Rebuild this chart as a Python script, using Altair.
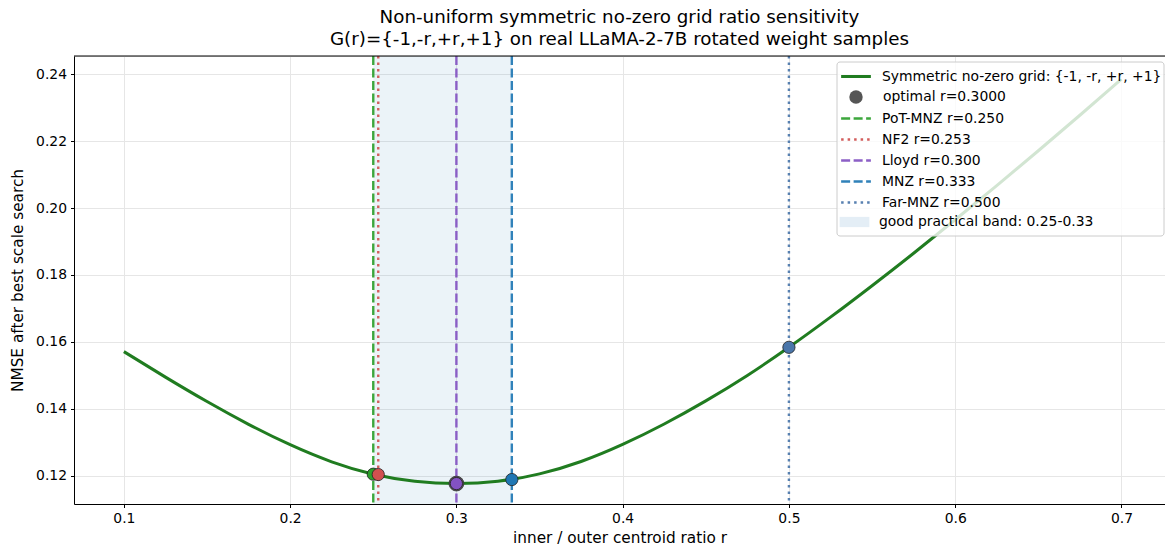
import altair as alt
import pandas as pd

# ---- data ----
r_vals = [0.100, 0.125, 0.150, 0.175, 0.200, 0.225, 0.250, 0.275, 0.300,
          0.325, 0.350, 0.375, 0.400, 0.425, 0.450, 0.475, 0.500, 0.525,
          0.550, 0.575, 0.600, 0.625, 0.650, 0.675, 0.700]
nmse_vals = [0.1571, 0.1495, 0.1422, 0.1354, 0.1293, 0.1242, 0.1205, 0.1184, 0.1177,
             0.1184, 0.1206, 0.1243, 0.1294, 0.1355, 0.1424, 0.1500, 0.1584, 0.1674,
             0.1768, 0.1865, 0.1965, 0.2067, 0.2171, 0.2277, 0.2385]

curve_label = "Symmetric no-zero grid: {-1, -r, +r, +1}"
curve_color = "#207c20"

opt_label = "optimal r=0.3000"
opt_r = [0.300]
opt_nmse = [0.1177]
opt_color = "#555555"

method_labels = ["PoT-MNZ r=0.250", "NF2 r=0.253", "Lloyd r=0.300", "MNZ r=0.333", "Far-MNZ r=0.500"]
method_r = [0.250, 0.253, 0.300, 1 / 3, 0.500]
method_nmse = [0.1205, 0.1204, 0.1177, 0.1189, 0.1584]
method_colors = ["#2ca02c", "#d0504f", "#8352c2", "#1f77b4", "#4a76aa"]
method_dash = [[9, 3.5], [2.5, 4], [9, 3.5], [9, 3.5], [2.5, 4]]

band_label = "good practical band: 0.25-0.33"
band_lo = [0.25]
band_hi = [1 / 3]
band_color = "#1f77b4"

x_ticks = [0.1, 0.2, 0.3, 0.4, 0.5, 0.6, 0.7]
y_ticks = [0.12, 0.14, 0.16, 0.18, 0.20, 0.22, 0.24]

# ---- tables ----
curve_df = pd.DataFrame({"r": r_vals, "nmse": nmse_vals, "label": curve_label})
opt_df = pd.DataFrame({"r": opt_r, "nmse": opt_nmse, "label": opt_label})
meth_df = pd.DataFrame({"r": method_r, "nmse": method_nmse, "label": method_labels})
band_df = pd.DataFrame({"lo": band_lo, "hi": band_hi, "label": band_label})

W, H = 1091, 448
FONT = "DejaVu Sans"
LEG_X = 767
STROKE_PATH = "M-1.75,0H1.75"
PATCH_PATH = "M-1.75,-0.6H1.75V0.6H-1.75Z"

xscale = alt.Scale(domain=[0.07, 0.7262], nice=False, zero=False)
yscale = alt.Scale(domain=[0.1116, 0.2454], nice=False, zero=False)


def leg(y, **kw):
    base = dict(title=None, orient="none", legendX=LEG_X, legendY=y, padding=0,
                labelFont=FONT, labelFontSize=13.9, labelColor="#000000", labelLimit=400)
    base.update(kw)
    return alt.Legend(**base)


axis_common = dict(grid=True, gridColor="#e6e6e6", domainColor="#000000", tickColor="#000000",
                   tickSize=3.5, labelFont=FONT, labelFontSize=13.9, labelColor="#000000",
                   titleFont=FONT, titleFontSize=15.3, titleFontWeight="normal",
                   titleColor="#000000", labelFlush=False)
x_axis = alt.Axis(values=x_ticks, format=".1f", title="inner / outer centroid ratio r",
                  labelPadding=4, titlePadding=5, **axis_common)
y_axis = alt.Axis(values=y_ticks, format=".2f", title="NMSE after best scale search",
                  labelPadding=4, titlePadding=10, **axis_common)

band = alt.Chart(band_df).mark_rect(opacity=0.09).encode(
    x=alt.X("lo:Q", scale=xscale, axis=x_axis),
    x2="hi:Q",
    color=alt.Color("label:N", scale=alt.Scale(domain=[band_label], range=[band_color]),
                    legend=leg(157.5, symbolType=PATCH_PATH, symbolSize=289, symbolOffset=5,
                               labelOffset=16, symbolOpacity=0.12, symbolStrokeWidth=0)),
)

curve = alt.Chart(curve_df).mark_line(strokeWidth=3, interpolate="natural").encode(
    x=alt.X("r:Q", scale=xscale, axis=x_axis),
    y=alt.Y("nmse:Q", scale=yscale, axis=y_axis),
    color=alt.Color("label:N", scale=alt.Scale(domain=[curve_label], range=[curve_color]),
                    legend=leg(10.5, symbolType=STROKE_PATH, symbolSize=289, symbolOffset=5,
                               labelOffset=16, symbolStrokeWidth=3)),
)

legend_box = alt.Chart(pd.DataFrame({"k": [0]})).mark_rect(
    fill="white", fillOpacity=0.8, stroke="#cccccc", strokeWidth=1, cornerRadius=3
).encode(x=alt.value(763), x2=alt.value(1090), y=alt.value(6), y2=alt.value(180))

meth_legend = leg(52.5, symbolType=STROKE_PATH, symbolSize=289, symbolOffset=5,
                  labelOffset=16, symbolStrokeWidth=2.4, rowPadding=4)
rules = alt.Chart(meth_df).mark_rule(strokeWidth=2.4, opacity=0.92).encode(
    x=alt.X("r:Q", scale=xscale),
    color=alt.Color("label:N", scale=alt.Scale(domain=method_labels, range=method_colors),
                    legend=meth_legend),
    strokeDash=alt.StrokeDash("label:N", scale=alt.Scale(domain=method_labels, range=method_dash),
                              legend=meth_legend),
)

opt_pt = alt.Chart(opt_df).mark_circle(size=220, opacity=1, stroke="#333333", strokeWidth=0.8).encode(
    x=alt.X("r:Q", scale=xscale),
    y=alt.Y("nmse:Q", scale=yscale),
    color=alt.Color("label:N", scale=alt.Scale(domain=[opt_label], range=[opt_color]),
                    legend=leg(34, symbolType="circle", symbolSize=180, symbolOffset=8,
                               labelOffset=20, symbolStrokeWidth=0)),
)

meth_pts = alt.Chart(meth_df).mark_circle(size=150, opacity=1, stroke="#222222", strokeWidth=0.8).encode(
    x=alt.X("r:Q", scale=xscale),
    y=alt.Y("nmse:Q", scale=yscale),
    color=alt.Color("label:N", scale=alt.Scale(domain=method_labels, range=method_colors), legend=None),
)

top_spine = alt.Chart(pd.DataFrame({"k": [0]})).mark_rule(color="#000000", strokeWidth=1).encode(
    x=alt.value(0), x2=alt.value(W), y=alt.value(0)
)

chart = alt.layer(band, curve, rules, opt_pt, meth_pts, legend_box, top_spine).resolve_scale(
    color="independent", strokeDash="independent"
).properties(
    width=W,
    height=H,
    padding={"left": 74, "top": 56, "right": 0, "bottom": 46},
    autosize=alt.AutoSizeParams(type="none"),
    title=alt.TitleParams(
        text=["Non-uniform symmetric no-zero grid ratio sensitivity",
              "G(r)={-1,-r,+r,+1} on real LLaMA-2-7B rotated weight samples"],
        font=FONT, fontSize=18.3, fontWeight="normal", color="#000000",
        anchor="middle", offset=6, lineHeight=22,
    ),
).configure_view(stroke=None).configure(background="white")

chart.save("out.html", embed_options={"renderer": "svg", "actions": False})
